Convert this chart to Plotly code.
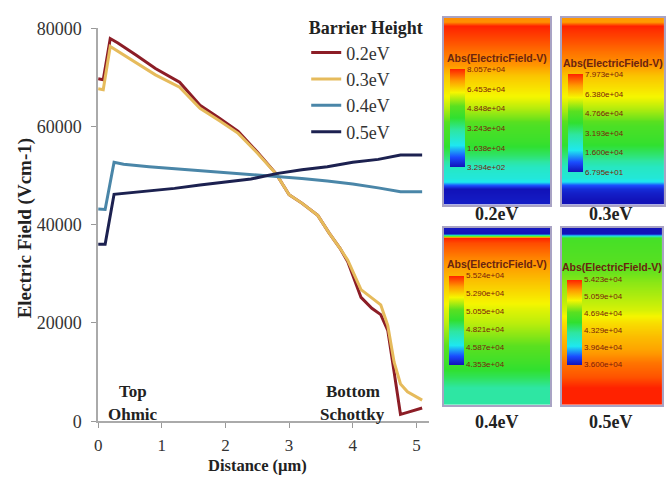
import plotly.graph_objects as go

# ---------------- data ----------------
series_names = ["0.2eV", "0.3eV", "0.4eV", "0.5eV"]
series_colors = ["#8c1d26", "#e6bb5c", "#4a86a8", "#1c2150"]

dist_low = [0, 0.08, 0.19, 0.31, 0.6, 0.9, 1.28, 1.6, 1.9, 2.2, 2.5, 2.8, 3.0,
            3.2, 3.45, 3.63, 3.8, 3.92, 4.13, 4.3, 4.44, 4.55, 4.65, 4.75, 4.86, 5.09]
field_02 = [69700, 69500, 77900, 77000, 74500, 71800, 69000, 64300, 61700, 59000,
            54800, 50300, 46100, 44400, 41900, 38300, 35200, 32500, 25200, 23000,
            21700, 18500, 10000, 1400, 1800, 2700]
field_03 = [67700, 67500, 76300, 75300, 73000, 70500, 68000, 63700, 61200, 58600,
            54600, 50300, 46100, 44400, 41900, 38300, 35200, 32800, 26800, 25000,
            23700, 19500, 12000, 7600, 6000, 4300]

dist_high = [0, 0.11, 0.25, 0.4, 0.8, 1.2, 1.6, 2.0, 2.4, 2.8, 3.2, 3.6, 4.0, 4.4, 4.75, 5.09]
field_04 = [43200, 43100, 52700, 52300, 51800, 51400, 51000, 50600, 50200, 49900,
            49400, 48900, 48300, 47500, 46700, 46700]
field_05 = [36000, 36000, 46200, 46400, 46900, 47400, 48100, 48700, 49300, 50400,
            51200, 51800, 52700, 53300, 54200, 54200]

series_x = [dist_low, dist_low, dist_high, dist_high]
series_y = [field_02, field_03, field_04, field_05]

x_ticks = [0, 1, 2, 3, 4, 5]
y_ticks = [0, 20000, 40000, 60000, 80000]

# printed colour-bar labels of the simulation maps (top to bottom)
cb_text = [
    ["8.057e+04", "6.453e+04", "4.848e+04", "3.243e+04", "1.638e+04", "3.294e+02"],
    ["7.973e+04", "6.380e+04", "4.766e+04", "3.193e+04", "1.600e+04", "6.795e+01"],
    ["5.524e+04", "5.290e+04", "5.055e+04", "4.821e+04", "4.587e+04", "4.353e+04"],
    ["5.423e+04", "5.059e+04", "4.694e+04", "4.329e+04", "3.964e+04", "3.600e+04"],
]
map_title = "Abs(ElectricField-V)"

# ---------------- layout helpers (pixels -> paper) ----------------
W, H = 666, 483
def px(x):
    return x / W
def py(y):
    return 1 - y / H

SERIF = "Liberation Serif"
SANS = "Liberation Sans"

rainbow = [
    [0.0, "#1212b8"], [0.1, "#1a4cff"], [0.22, "#1ee8f0"], [0.38, "#2ee6a0"],
    [0.5, "#30e030"], [0.62, "#5ae020"], [0.76, "#f6f600"], [0.88, "#ff9a00"],
    [1.0, "#ff2200"],
]

fig = go.Figure()

for name, color, xs, ys in zip(series_names, series_colors, series_x, series_y):
    fig.add_trace(go.Scatter(
        x=xs, y=ys, mode="lines", name=name,
        line=dict(color=color, width=3),
        xaxis="x", yaxis="y",
    ))

# panel geometry (pixels): x0, x1, y0, y1
panels = [
    (444, 551, 8, 203),
    (563, 666, 8, 203),
    (444, 551, 227, 412),
    (563, 664, 227, 412),
]
# colourbar geometry (pixels): left, top, bottom
cbars = [
    (450, 64, 162),
    (569, 69, 167),
    (449, 279, 368),
    (568, 283, 368),
]
title_y = [50, 55, 265, 268]
label_pos = [(497, 213), (613, 213), (497, 430), (613, 430)]

annotations = []
for i in range(4):
    ax = i + 2
    x0, x1, y0, y1 = panels[i]
    cl, ct, cbm = cbars[i]
    zmin, zmax = min(series_y[i]), max(series_y[i])
    tickpos = [zmax - k * (zmax - zmin) / 5 for k in range(6)]
    fig.add_trace(go.Heatmap(
        x=[0, 1], y=series_x[i], z=[[v, v] for v in series_y[i]],
        zmin=zmin, zmax=zmax, zsmooth="best",
        colorscale=rainbow, showscale=True,
        xaxis=f"x{ax}", yaxis=f"y{ax}", hoverinfo="skip",
        colorbar=dict(
            x=px(cl), xanchor="left", xpad=0,
            y=py((ct + cbm) / 2), yanchor="middle", ypad=0,
            len=cbm - ct, lenmode="pixels", thickness=15, thicknessmode="pixels",
            outlinewidth=0, ticks="", tickvals=tickpos, ticktext=cb_text[i],
            tickfont=dict(family=SANS, size=8, color="#7a1c0c"),
        ),
    ))
    fig.layout[f"xaxis{ax}"] = dict(
        domain=[px(x0), px(x1)], anchor=f"y{ax}", range=[0, 1],
        showticklabels=False, ticks="", showgrid=False, zeroline=False,
        showline=True, mirror=True, linecolor="#a9a3c4", linewidth=1.5,
    )
    fig.layout[f"yaxis{ax}"] = dict(
        domain=[py(y1), py(y0)], anchor=f"x{ax}", autorange="reversed",
        showticklabels=False, ticks="", showgrid=False, zeroline=False,
        showline=True, mirror=True, linecolor="#a9a3c4", linewidth=1.5,
    )
    annotations.append(dict(
        text=map_title, x=px((x0 + x1) / 2), y=py(title_y[i]), xref="paper", yref="paper",
        showarrow=False, xanchor="center", yanchor="middle",
        font=dict(family=SANS, size=10.5, color="#6a2410", weight="bold"),
    ))
    lx, ly = label_pos[i]
    annotations.append(dict(
        text=f"<b>{series_names[i]}</b>", x=px(lx), y=py(ly), xref="paper", yref="paper",
        showarrow=False, xanchor="center", yanchor="middle",
        font=dict(family=SERIF, size=18, color="#222"),
    ))

# axis titles and notes
annotations += [
    dict(text="<b>Electric Field (Vcm-1)</b>", x=px(21), y=py(228), textangle=-90,
         xref="paper", yref="paper", showarrow=False, xanchor="center", yanchor="middle",
         font=dict(family=SERIF, size=19, color="#222")),
    dict(text="<b>Distance (µm)</b>", x=px(256), y=0, xref="paper", yref="paper",
         showarrow=False, xanchor="center", yanchor="bottom", yshift=-4,
         font=dict(family=SERIF, size=16.5, color="#222")),
]
for txt, xx, yy in [("Top", 130, 398), ("Ohmic", 130, 422),
                    ("Bottom", 352, 398), ("Schottky", 352, 422)]:
    annotations.append(dict(
        text=f"<b>{txt}</b>", x=px(xx), y=py(yy), xref="paper", yref="paper",
        showarrow=False, xanchor="center", yanchor="middle",
        font=dict(family=SERIF, size=17, color="#222")))

fig.update_layout(
    width=W, height=H, margin=dict(l=0, r=0, t=0, b=0),
    paper_bgcolor="white", plot_bgcolor="white",
    xaxis=dict(
        domain=[px(95), px(429)], range=[0, 5.2], anchor="y",
        tickvals=x_ticks, ticks="outside", ticklen=5, tickcolor="#999",
        ticklabelstandoff=3,
        showline=True, linecolor="#aaa", linewidth=1.5, showgrid=False, zeroline=False,
        tickfont=dict(family=SERIF, size=17, color="#333"),
    ),
    yaxis=dict(
        domain=[py(429), py(19)], range=[0, 80000], anchor="x",
        tickvals=y_ticks, tickformat="d", ticks="outside", ticklen=5, tickcolor="#999",
        ticklabelstandoff=6,
        showline=True, linecolor="#aaa", linewidth=1.5, showgrid=False, zeroline=False,
        tickfont=dict(family=SERIF, size=18, color="#333"),
    ),
    legend=dict(
        x=px(365), xanchor="center", y=py(1), yanchor="top",
        bgcolor="rgba(0,0,0,0)",
        title=dict(text="<b>Barrier Height</b>", side="top center",
                   font=dict(family=SERIF, size=18, color="#222")),
        font=dict(family=SERIF, size=18, color="#333"),
        itemwidth=30, tracegroupgap=0,
    ),
    annotations=annotations,
    showlegend=True,
)

fig.write_html("out.html")
